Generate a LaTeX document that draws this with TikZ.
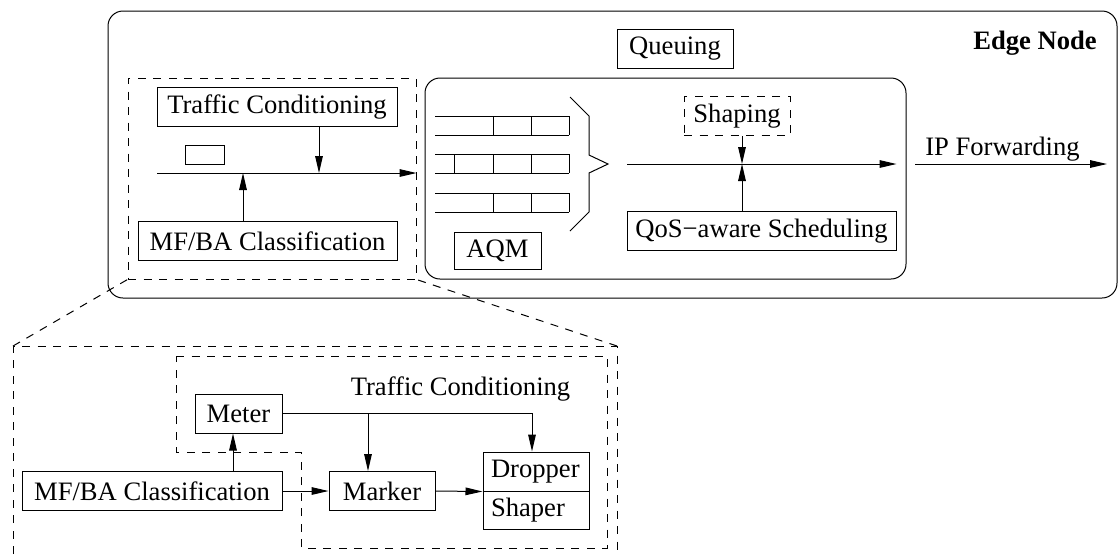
\documentclass[tikz,border=0pt]{standalone}
\usepackage{fontspec}
\setmainfont{Liberation Serif}
\usetikzlibrary{arrows.meta}
\usetikzlibrary{calc}

\begin{document}
\begin{tikzpicture}[x=0.5pt,y=-0.5pt,line width=0.5pt,
	every node/.style={font=\fontsize{13.3}{16}\selectfont},
	blk/.style={draw,inner sep=0pt,minimum height=19.5pt},
	dsh/.style={dash pattern=on 4pt off 3.75pt},
	>={Triangle[length=8.5pt,width=3.8pt]}]
	\useasboundingbox (0,0) rectangle (1118,554);
	% edge node
	\node[draw,rounded corners=7.5pt,minimum width=504.5pt,minimum height=143.5pt] (edge) at (612.5,154.5) {};
	\node[anchor=base,font=\fontsize{13.3}{16}\selectfont\bfseries] (edgelbl) at (1035,49) {Edge Node};
	% classification + conditioning
	\node[draw,dsh,minimum width=144pt,minimum height=100.5pt] (cls) at (272,178.5) {};
	\node[blk,minimum width=120pt] (tc) at (277,106.5) {Traffic Conditioning};
	\node[blk,minimum width=129.5pt] (mfba) at (267.5,241) {MF/BA Classification};
	\node[draw,inner sep=0pt,minimum width=19.5pt,minimum height=9.5pt] (pkt) at (204.5,154.5) {};
	\coordinate (clsin) at (157,173);
	\draw[->] (clsin) -- (clsin -| cls.east);
	\draw[->] ([xshift=21pt]tc.south) -- ([xshift=21pt]tc.south |- clsin);
	\draw[->] ([xshift=-12.25pt]mfba.north) -- ([xshift=-12.25pt]mfba.north |- clsin);
	% queuing
	\node[draw,rounded corners=7.5pt,minimum width=240.5pt,minimum height=100.5pt] (que) at (665.5,178.5) {};
	\node[blk,minimum width=58pt] (quelbl) at (675,48.5) {Queuing};
	\foreach \y/\cells in {116/{493,531,569},154/{454,493,531,569},193/{493,531,569}} {
		\draw (435,\y) -- (569,\y) (435,\y+19) -- (569,\y+19);
		\foreach \x in \cells
			\draw (\x,\y) -- (\x,\y+19);
	}
	\draw (570,97) -- (589,116) -- (589,155) -- (608,164) -- (589,173) -- (589,212) -- (570,231);
	\node[blk,minimum width=43.5pt,minimum height=18.5pt] (aqm) at (497.5,250.5) {AQM};
	\node[blk,dsh,minimum width=53pt] (shp) at (737,116) {Shaping};
	\node[blk,minimum width=134.5pt] (qos) at (761.5,231) {QoS−aware Scheduling};
	\coordinate (quein) at (627,164);
	\draw[->] (quein) -- (quein -| qos.east);
	\draw[->] ([xshift=2.5pt]shp.south) -- ([xshift=2.5pt]shp.south |- quein);
	\draw[->] ([xshift=-9.75pt]qos.north) -- ([xshift=-9.75pt]qos.north |- quein);
	% forwarding
	\coordinate (fwdin) at (915,164);
	\coordinate (fwdout) at (1107,164);
	\draw[->] (fwdin) -- (fwdout);
	\node[anchor=base] (fwd) at (1002.5,155) {IP Forwarding};
	% zoomed view
	\draw[dsh] (13,554) -- (13,346) coordinate (zl) -- (617,346) coordinate (zr) -- (617,554);
	\draw[dsh] (zl) -- (cls.south west);
	\draw[dsh] (zr) -- (cls.south east);
	\draw[dsh] (176,356) -- (607,356) -- (607,548) -- (301,548) -- (301,452) -- (176,452) -- cycle;
	\node[anchor=base] (tclbl) at (460.5,395) {Traffic Conditioning};
	\node[blk,minimum width=43.5pt] (meter) at (238.5,413.5) {Meter};
	\node[blk,minimum width=130pt] (mfbb) at (152,491) {MF/BA Classification};
	\node[blk,minimum width=53pt] (marker) at (382,491) {Marker};
	\node[blk,text width=45pt,inner xsep=4pt,align=left] (drop) at (536,471.5) {Dropper};
	\node[blk,text width=45pt,inner xsep=4pt,align=left,minimum height=19pt] (shap) at (536,510) {Shaper};
	\draw[->] ([xshift=-2.75pt]meter.south |- mfbb.north) -- ([xshift=-2.75pt]meter.south);
	\draw[->] (meter.east) -| ([xshift=-2pt]drop.north);
	\draw[->] ([xshift=-7pt]marker.north |- meter.east) -- ([xshift=-7pt]marker.north);
	\draw[->] (mfbb.east) -- (marker.west);
	\draw[->] (marker.east) -- (drop.south west);
\end{tikzpicture}
\end{document}
